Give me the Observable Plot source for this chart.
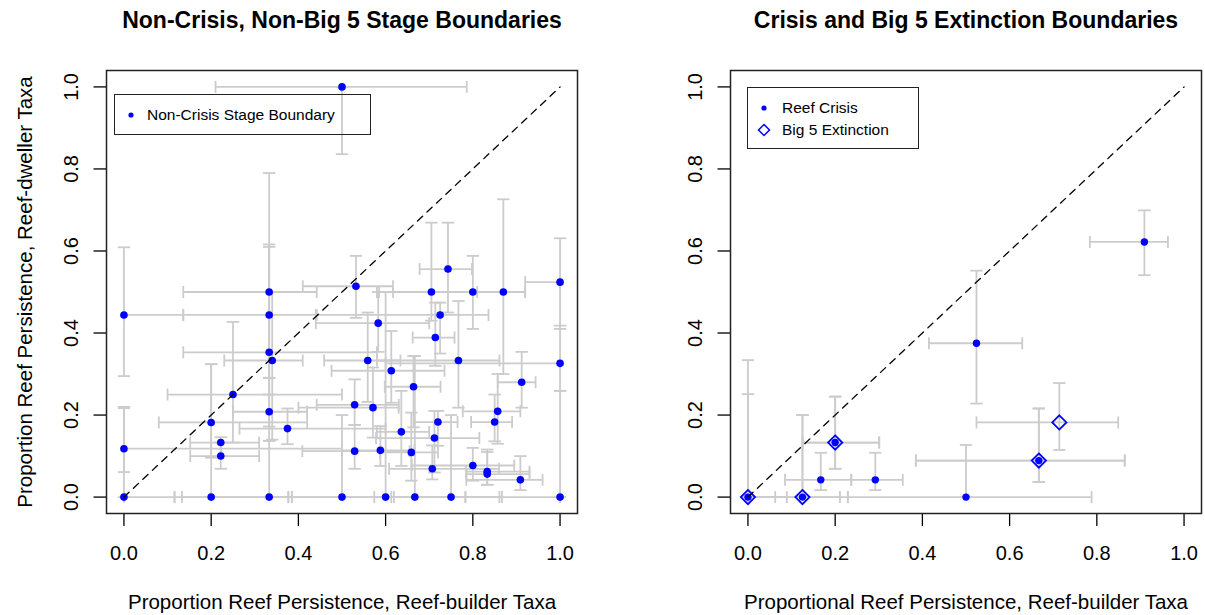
<!DOCTYPE html>
<html>
<head>
<meta charset="utf-8">
<script src="https://cdn.jsdelivr.net/npm/d3@7"></script>
<script src="https://cdn.jsdelivr.net/npm/@observablehq/plot@0.6"></script>
<style>
  body { margin: 0; background: #fff; font-family: "Liberation Sans", Arial, sans-serif; }
  #chart { position: relative; width: 1205px; height: 615px; overflow: hidden; }
  .panel { position: absolute; top: 0; }
  .legend { position: absolute; border: 1.3px solid #222; box-sizing: border-box; font-size: 15.5px; color: #000; }
  .legend .sym { position: absolute; }
  .legend .lbl { position: absolute; line-height: 1; white-space: nowrap; transform: translateY(-50%); }
</style>
</head>
<body>
<div id="chart">
  <div id="left" class="panel" style="left:0px"></div>
  <div id="right" class="panel" style="left:602px"></div>
  <div class="legend" style="left:114px;top:94px;width:257px;height:41px">
    <svg class="sym" width="10" height="10" style="left:11px;top:15px"><circle cx="5" cy="5" r="2.6" fill="#0000ff"/></svg>
    <span class="lbl" style="left:32px;top:20px">Non-Crisis Stage Boundary</span>
  </div>
  <div class="legend" style="left:747px;top:87px;width:172px;height:62px">
    <svg class="sym" width="10" height="10" style="left:11px;top:15px"><circle cx="5" cy="5" r="2.6" fill="#0000ff"/></svg>
    <span class="lbl" style="left:34px;top:20px">Reef Crisis</span>
    <svg class="sym" width="14" height="14" style="left:9px;top:35px"><path d="M7,1.5L12.5,7L7,12.5L1.5,7Z" fill="none" stroke="#0000ff" stroke-width="1.5"/></svg>
    <span class="lbl" style="left:34px;top:42px">Big 5 Extinction</span>
  </div>
</div>
<script>
// Tick positions shared by both panels
const tickValues = [0, 0.2, 0.4, 0.6, 0.8, 1.0];
const identity = [0, 1];

// Non-crisis, non-Big 5 stage boundaries: proportion persisting (reef-builders vs reef-dwellers) with intervals
const nonCrisisBuilder   = [0.5, 0, 0.333, 0.333, 0.333, 0.34, 0.25, 0.2, 0.333, 0.375, 0.222, 0.222, 0, 0, 0.2, 0.333, 0.5, 0.6, 0.667, 0.75, 1.0, 0.532, 0.705, 0.8, 0.87, 1.0, 0.743, 0.725, 0.583, 0.714, 0.559, 0.767, 1.0, 0.613, 0.912, 0.664, 0.529, 0.571, 0.857, 0.85, 0.72, 0.636, 0.712, 0.529, 0.588, 0.659, 0.707, 0.8, 0.833, 0.833, 0.909];
const nonCrisisDweller   = [1.0, 0.444, 0.5, 0.444, 0.353, 0.333, 0.25, 0.182, 0.208, 0.167, 0.133, 0.1, 0.118, 0, 0, 0, 0, 0, 0, 0, 0, 0.514, 0.5, 0.5, 0.5, 0.524, 0.556, 0.444, 0.424, 0.389, 0.333, 0.333, 0.326, 0.308, 0.28, 0.269, 0.225, 0.218, 0.209, 0.183, 0.183, 0.159, 0.144, 0.112, 0.114, 0.109, 0.069, 0.077, 0.062, 0.056, 0.042];
const nonCrisisBuilderLo = [0.21, 0, 0.136, 0.136, 0.136, 0.23, 0.10, 0.08, 0.25, 0.265, 0.152, 0.152, 0, 0, 0.116, 0.133, 0.385, 0.377, 0.574, 0.619, 0.783, 0.41, 0.58, 0.617, 0.585, 0.92, 0.678, 0.44, 0.44, 0.662, 0.459, 0.58, 0.6, 0.476, 0.857, 0.598, 0.442, 0.4, 0.777, 0.796, 0.666, 0.58, 0.578, 0.409, 0.5, 0.587, 0.608, 0.66, 0.785, 0.785, 0.785];
const nonCrisisBuilderHi = [0.786, 0.136, 0.442, 0.442, 0.58, 0.41, 0.5, 0.42, 0.42, 0.6, 0.31, 0.31, 0.5, 0.116, 0.377, 0.385, 0.613, 0.783, 0.861, 0.867, 1.0, 0.617, 0.81, 0.92, 0.92, 1.0, 0.798, 0.836, 0.70, 0.758, 0.634, 0.861, 1.0, 0.735, 0.944, 0.726, 0.63, 0.63, 0.909, 0.89, 0.765, 0.70, 0.815, 0.655, 0.666, 0.72, 0.86, 0.895, 0.93, 0.93, 0.96];
const nonCrisisDwellerLo = [0.836, 0.295, 0.29, 0.25, 0.172, 0.14, 0.133, 0.096, 0.137, 0.129, 0.1, 0.069, 0.061, 0, 0, 0, 0, 0, 0, 0, 0, 0.437, 0.43, 0.41, 0.3, 0.41, 0.45, 0.35, 0.354, 0.32, 0.232, 0.218, 0.259, 0.23, 0.218, 0.17, 0.176, 0.145, 0.13, 0.136, 0.125, 0.076, 0.06, 0.069, 0.076, 0.04, 0.043, 0.04, 0.03, 0.03, 0.017];
const nonCrisisDwellerHi = [1.0, 0.609, 0.79, 0.616, 0.61, 0.5, 0.427, 0.324, 0.291, 0.216, 0.146, 0.133, 0.22, 0.217, 0.324, 0.137, 0.2, 0.5, 0.344, 0.2, 0.259, 0.588, 0.669, 0.588, 0.726, 0.631, 0.669, 0.474, 0.5, 0.474, 0.45, 0.478, 0.418, 0.405, 0.354, 0.344, 0.287, 0.316, 0.3, 0.25, 0.21, 0.259, 0.21, 0.176, 0.173, 0.206, 0.126, 0.12, 0.116, 0.11, 0.1];

// Reef crises
const crisisBuilder   = [0, 0.125, 0.2, 0.167, 0.292, 0.5, 0.524, 0.667, 0.909];
const crisisDweller   = [0, 0, 0.133, 0.042, 0.042, 0, 0.375, 0.089, 0.622];
const crisisBuilderLo = [0, 0, 0.125, 0.085, 0.237, 0.229, 0.415, 0.385, 0.784];
const crisisBuilderHi = [0.0625, 0.211, 0.301, 0.237, 0.355, 0.788, 0.629, 0.864, 0.963];
const crisisDwellerLo = [0, 0, 0.069, 0.017, 0.017, 0, 0.228, 0.037, 0.541];
const crisisDwellerHi = [0.334, 0.2, 0.245, 0.108, 0.108, 0.127, 0.552, 0.216, 0.699];

// Big 5 mass extinctions
const big5Builder   = [0, 0.125, 0.2, 0.667, 0.714];
const big5Dweller   = [0, 0, 0.133, 0.089, 0.182];
const big5BuilderLo = [0, 0, 0.125, 0.385, 0.524];
const big5BuilderHi = [0.089, 0.229, 0.301, 0.864, 0.849];
const big5DwellerLo = [0, 0, 0.069, 0.037, 0.115];
const big5DwellerHi = [0.251, 0.2, 0.245, 0.216, 0.278];

const blue = "#0000ff";
const barColor = "#cccccc";
const fmt = d3.format(".1f");

function rows(bx, dw, bLo, bHi, dLo, dHi) {
  return bx.map((x, i) => ({x, y: dw[i], xlo: bLo[i], xhi: bHi[i], ylo: dLo[i], yhi: dHi[i]}));
}

// Flat end caps for the interval bars
const hCap = {draw(context, size) { const r = Math.sqrt(size / Math.PI); context.moveTo(-r, 0); context.lineTo(r, 0); }};
const vCap = {draw(context, size) { const r = Math.sqrt(size / Math.PI); context.moveTo(0, -r); context.lineTo(0, r); }};

function errorBars(data) {
  const s = {stroke: barColor, strokeWidth: 1.8, fill: "none"};
  return [
    Plot.link(data, {x1: "xlo", x2: "xhi", y1: "y", y2: "y", ...s}),
    Plot.link(data, {x1: "x", x2: "x", y1: "ylo", y2: "yhi", ...s}),
    Plot.dot(data, {x: "xlo", y: "y", symbol: vCap, r: 6, ...s}),
    Plot.dot(data, {x: "xhi", y: "y", symbol: vCap, r: 6, ...s}),
    Plot.dot(data, {x: "x", y: "ylo", symbol: hCap, r: 6.2, ...s}),
    Plot.dot(data, {x: "x", y: "yhi", symbol: hCap, r: 6.2, ...s})
  ];
}

function panel({width, marginLeft, marginRight, title, xLabel, yLabel, marks}) {
  return Plot.plot({
    width, height: 615,
    marginTop: 70, marginBottom: 102, marginLeft, marginRight,
    x: {domain: [-0.04, 1.04]},
    y: {domain: [-0.04, 1.04]},
    style: {fontFamily: "'Liberation Sans', Arial, sans-serif", fontSize: "20px", color: "#000", background: "transparent"},
    marks: [
      Plot.axisX({ticks: tickValues, tickFormat: fmt, tickSize: 13, tickPadding: 19, label: null, strokeWidth: 1.3}),
      Plot.axisY({ticks: tickValues, tickFormat: fmt, tickSize: 12.5, tickPadding: 16, tickRotate: -90, label: null, strokeWidth: 1.3}),
      ...marks,
      Plot.line(identity, {x: d => d, y: d => d, stroke: "#000", strokeWidth: 1.3, strokeDasharray: "7,6"}),
      Plot.frame({stroke: "#222", strokeWidth: 1.5}),
      Plot.text([title], {text: d => d, frameAnchor: "top", lineAnchor: "middle", dy: -50, fontWeight: "bold", fontSize: 23}),
      Plot.text([xLabel], {text: d => d, frameAnchor: "bottom", lineAnchor: "middle", dy: 88.5, fontSize: 20.5}),
      yLabel ? Plot.text([yLabel], {text: d => d, frameAnchor: "left", textAnchor: "middle", lineAnchor: "middle", dx: -81, rotate: -90, fontSize: 20.5}) : null
    ]
  });
}

const nonCrisis = rows(nonCrisisBuilder, nonCrisisDweller, nonCrisisBuilderLo, nonCrisisBuilderHi, nonCrisisDwellerLo, nonCrisisDwellerHi);
const crisis = rows(crisisBuilder, crisisDweller, crisisBuilderLo, crisisBuilderHi, crisisDwellerLo, crisisDwellerHi);
const big5 = rows(big5Builder, big5Dweller, big5BuilderLo, big5BuilderHi, big5DwellerLo, big5DwellerHi);

document.getElementById("left").append(panel({
  width: 602, marginLeft: 106, marginRight: 25,
  title: "Non-Crisis, Non-Big 5 Stage Boundaries",
  xLabel: "Proportion Reef Persistence, Reef-builder Taxa",
  yLabel: "Proportion Reef Persistence, Reef-dweller Taxa",
  marks: [
    ...errorBars(nonCrisis),
    Plot.dot(nonCrisis, {x: "x", y: "y", r: 3.8, fill: blue})
  ]
}));

document.getElementById("right").append(panel({
  width: 603, marginLeft: 128, marginRight: 4,
  title: "Crisis and Big 5 Extinction Boundaries",
  xLabel: "Proportional Reef Persistence, Reef-builder Taxa",
  yLabel: null,
  marks: [
    ...errorBars(crisis),
    ...errorBars(big5),
    Plot.dot(crisis, {x: "x", y: "y", r: 3.7, fill: blue}),
    Plot.dot(big5, {x: "x", y: "y", symbol: "diamond2", r: 6.4, fill: "none", stroke: blue, strokeWidth: 1.8})
  ]
}));
</script>
</body>
</html>
